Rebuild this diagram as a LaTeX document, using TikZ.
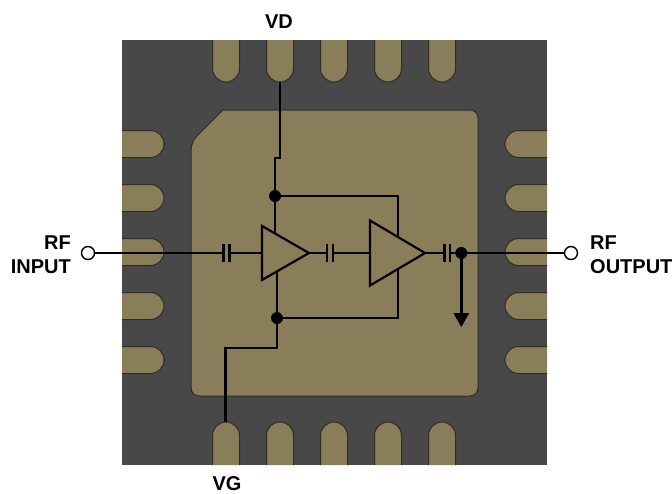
\documentclass[tikz,border=0pt]{standalone}
\usepackage{fontspec}
\setmainfont{Liberation Sans}
\usetikzlibrary{shapes.geometric,calc}
\definecolor{pkggray}{HTML}{484848}
\definecolor{padtan}{HTML}{8A7D5A}
\definecolor{padedge}{HTML}{2E2C26}
\tikzset{
    pad/.style={draw=padedge,fill=padtan,line width=1pt},
    wire/.style={draw=black,line width=2.6pt},
    plate/.style={draw=black,line width=2.2pt},
    amp/.style={draw=black,fill=padtan,line width=2.2pt,isosceles triangle,isosceles triangle stretches,inner sep=0pt,outer sep=0pt,anchor=apex},
    dot/.style={circle,fill=black,inner sep=0pt,minimum size=12pt},
    term/.style={circle,draw=black,fill=white,line width=1.4pt,inner sep=0pt,minimum size=13pt},
    lbl/.style={font=\fontsize{20}{24}\selectfont\bfseries,inner sep=0pt}
}
\begin{document}
\begin{tikzpicture}[x=1pt,y=1pt]
\useasboundingbox (0,0) rectangle (672,-493);
\fill[pkggray] (122,-40) rectangle (547,-465);
% paddle
\draw[pad,rounded corners=8pt] (191,-396) -- (191,-142) [sharp corners] -- (223,-110) [rounded corners=8pt] -- (478,-110) -- (478,-396) -- cycle;
% pads
\foreach \x in {226,280,334,388,442} {
    \draw[pad] (\x-13.5,-40) -- (\x-13.5,-68.5) arc (180:360:13.5) -- (\x+13.5,-40);
    \draw[pad] (\x-13.5,-465) -- (\x-13.5,-435.5) arc (180:0:13.5) -- (\x+13.5,-465);
}
\foreach \y in {144,198,252,306,360} {
    \draw[pad] (122,-\y+13.5) -- (150.5,-\y+13.5) arc (90:-90:13.5) -- (122,-\y-13.5);
    \draw[pad] (547,-\y+13.5) -- (518.5,-\y+13.5) arc (90:270:13.5) -- (547,-\y-13.5);
}
\coordinate (vdpad) at (280,-82);
\coordinate (vdjog) at (280,-158);
\coordinate (vgpad) at (225.5,-422);
\coordinate (vgjog) at (225.5,-348);
\coordinate (capal) at (223.5,-253);
\coordinate (capar) at (229.5,-253);
\coordinate (capbl) at (327,-253);
\coordinate (capbr) at (333,-253);
\coordinate (capcl) at (444.5,-253);
\coordinate (capcr) at (450,-253);
\coordinate (fbtop) at (398,-196);
\coordinate (fbbot) at (398,-318);
\node[dot] (top) at (275,-196) {};
\node[dot] (bot) at (277,-318) {};
\node[dot] (out) at (461.3,-253) {};
\coordinate (gnd) at (461.3,-314);
\node[term] (rfin) at (88,-253) {};
\node[term] (rfout) at (571,-253) {};
% wires under the amps
\draw[wire] (vdpad) -- (vdjog) -| (top);
\draw[wire] (top) -- (275,-240);
\draw[wire] (top) -- (fbtop) -- (398,-240);
\draw[wire] (bot) -- (277,-265);
\draw[wire] (bot) -- (fbbot) -- (398,-265);
\draw[wire] (bot) |- (vgjog) -- (vgpad);
\draw[wire] (rfin) -- (capal);
\draw[wire] (capar) -- (262,-253);
\draw[wire] (capbr) -- (370,-253);
\draw[wire] (capcr) -- (rfout);
\node[amp,minimum width=54pt,minimum height=47pt] (ampa) at (309,-253) {};
\node[amp,minimum width=65pt,minimum height=55pt] (ampb) at (425,-253) {};
\draw[wire] (ampa.apex) -- (capbl);
\draw[wire] (ampb.apex) -- (capcl);
\foreach \c/\h in {capal/9,capar/9,capbl/9,capbr/9,capcl/9,capcr/9} {
    \draw[plate] ([yshift=\h pt]\c) -- ([yshift=-\h pt]\c);
}
\draw[wire] (out) -- (gnd);
\fill ($(gnd)+(-8,1)$) -- ($(gnd)+(8,1)$) -- ($(gnd)+(0,-13)$) -- cycle;
\node[lbl] (vd) at (279,-22) {VD};
\node[lbl] (vg) at (227,-484) {VG};
\node[lbl,align=right,anchor=east] (rfinlbl) at (71,-255) {RF\\INPUT};
\node[lbl,align=left,anchor=west] (rfoutlbl) at (590,-255) {RF\\OUTPUT};
\end{tikzpicture}
\end{document}
